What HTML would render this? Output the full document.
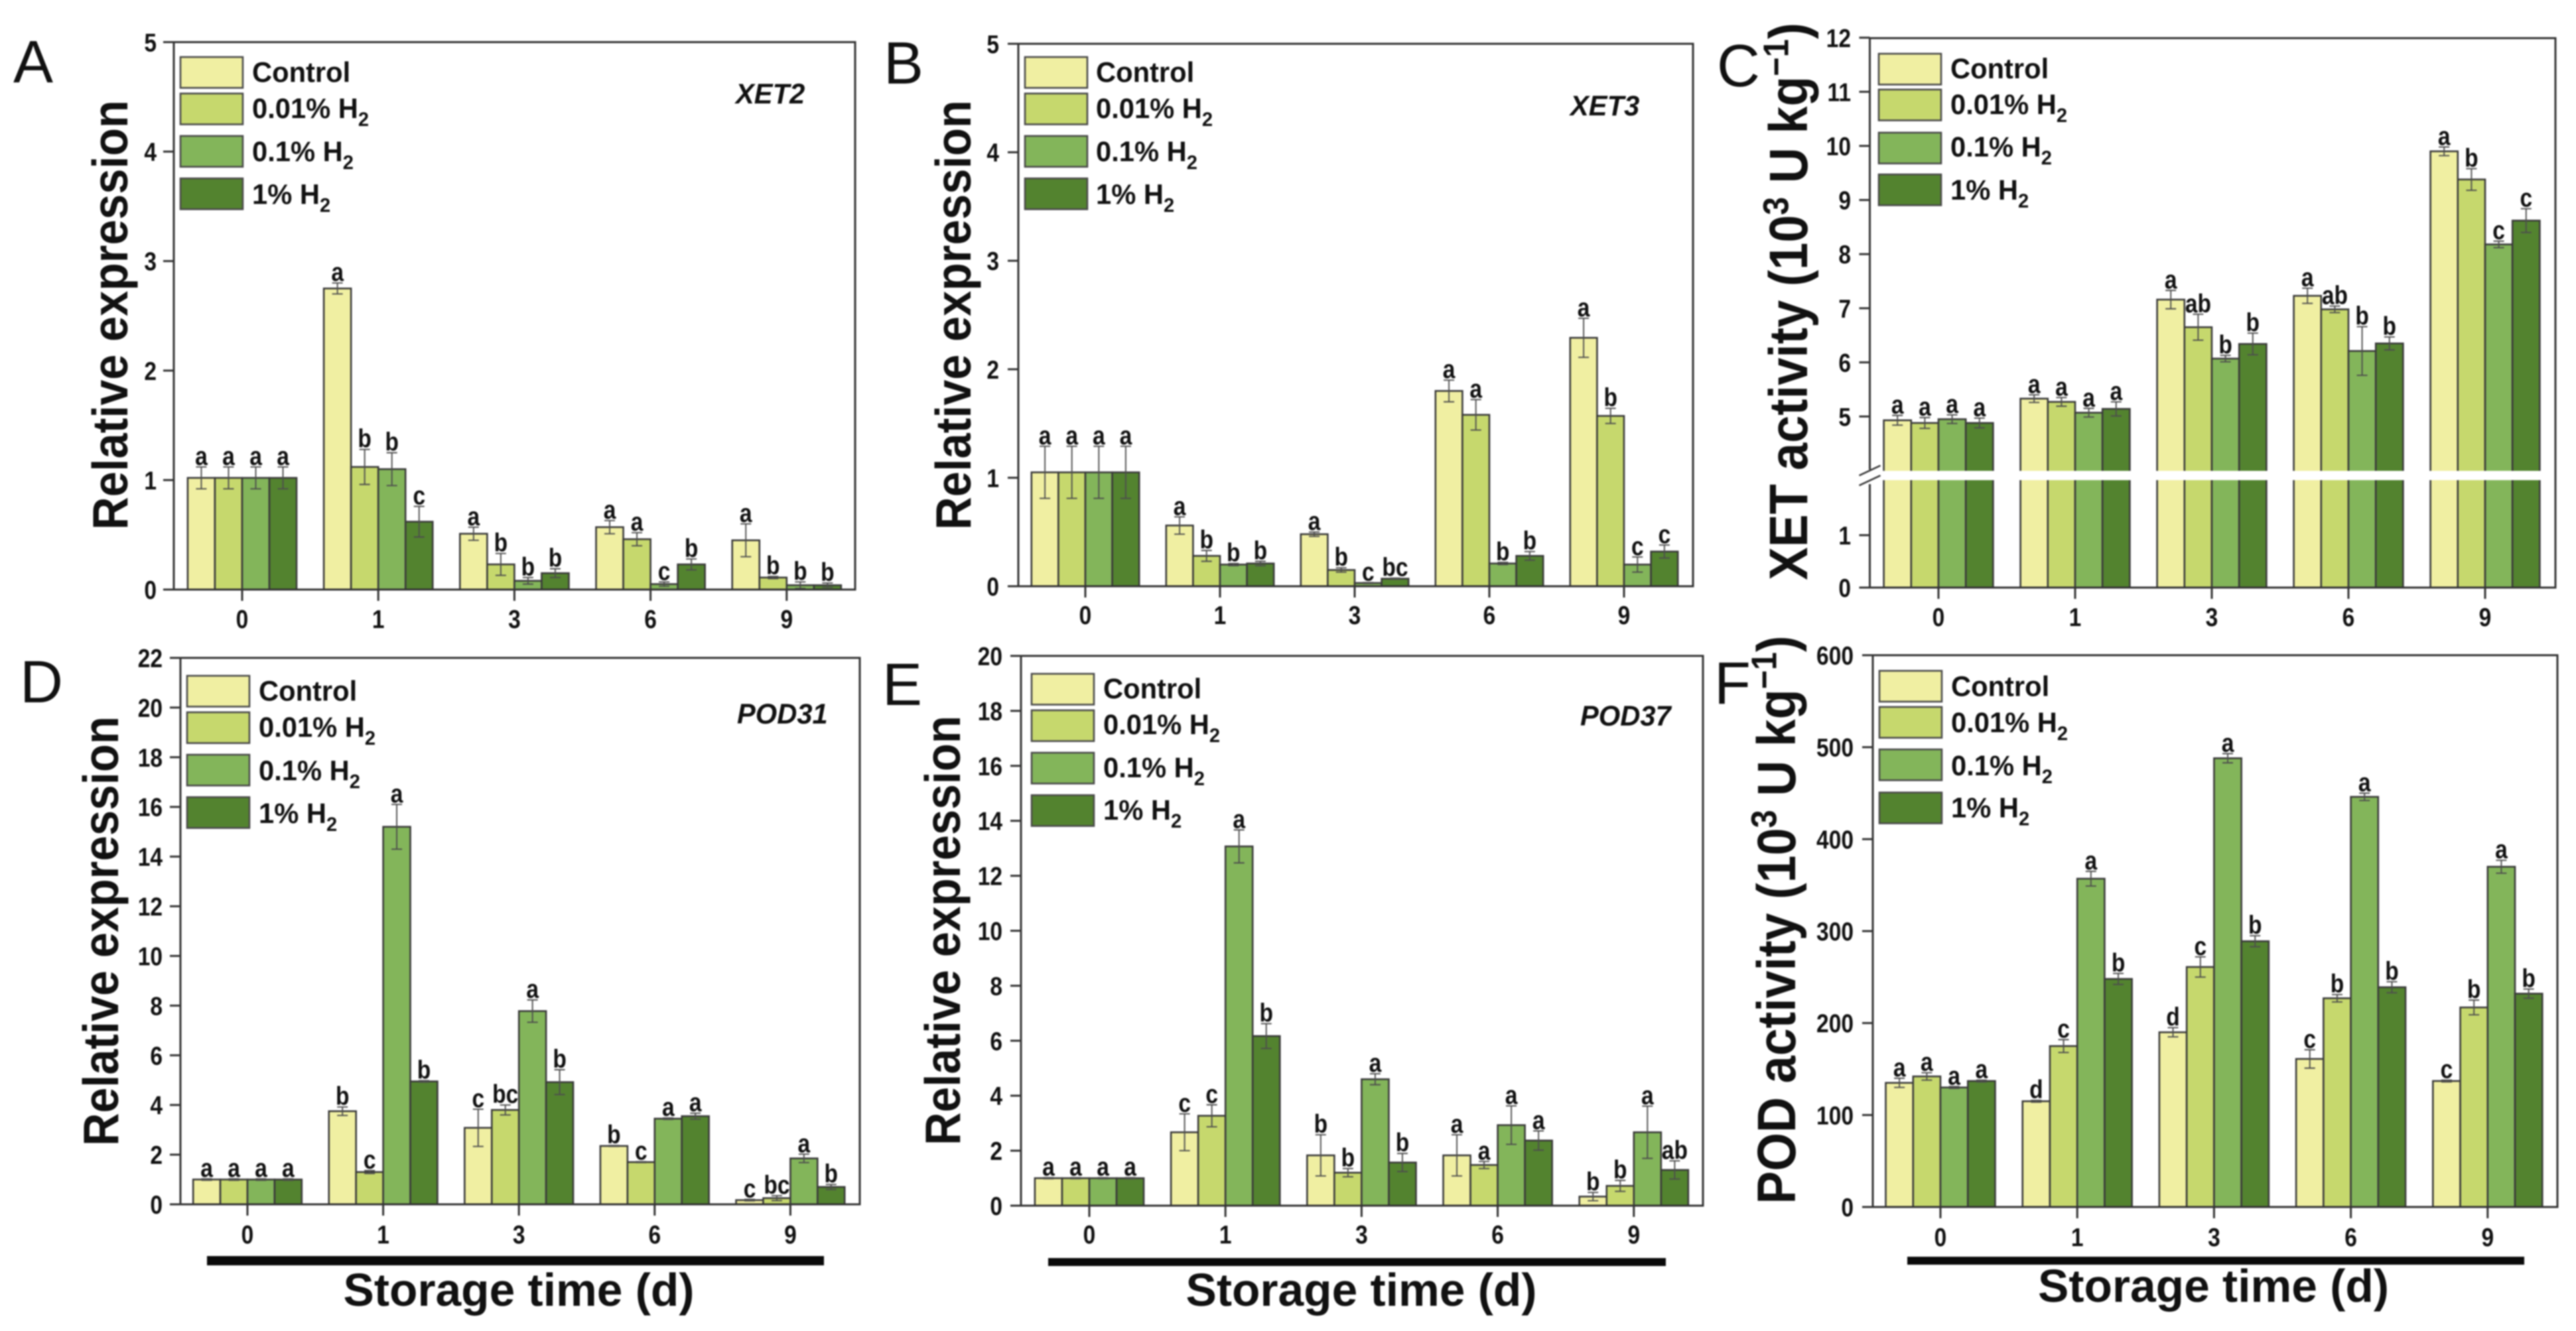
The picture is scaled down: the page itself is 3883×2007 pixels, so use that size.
<!DOCTYPE html>
<html lang="en">
<head>
<meta charset="utf-8">
<title>XET and POD expression and activity under H2 treatments</title>
<style>
html,body{margin:0;padding:0;background:#fff;width:3883px;height:2007px;overflow:hidden}
svg{display:block;filter:blur(1px)}
text{font-family:"Liberation Sans",sans-serif;fill:#111}
</style>
</head>
<body>
<svg id="figure" xmlns="http://www.w3.org/2000/svg" width="3883" height="2007" viewBox="0 0 3883 2007"></svg>
<script>
const categories = ['0', '1', '3', '6', '9'];
const seriesNames = ['Control', '0.01% H', '0.1% H', '1% H'];
const seriesHasSub = [false, true, true, true];
const seriesColors = ['#f0efa2', '#c6d86d', '#83b55a', '#53832f'];

const xet2Values = [[1.02,1.02,1.02,1.02],[2.75,1.12,1.10,0.62],[0.51,0.23,0.08,0.15],[0.57,0.46,0.05,0.23],[0.45,0.11,0.04,0.04]];
const xet2Errors = [[0.10,0.10,0.10,0.10],[0.05,0.16,0.15,0.14],[0.06,0.10,0.03,0.04],[0.06,0.06,0.02,0.05],[0.15,0.01,0.03,0.02]];
const xet2Letters = [['a','a','a','a'],['a','b','b','c'],['a','b','b','b'],['a','a','c','b'],['a','b','b','b']];
const xet2Ticks = [0,1,2,3,4,5];

const xet3Values = [[1.05,1.05,1.05,1.05],[0.56,0.28,0.20,0.21],[0.48,0.15,0.03,0.07],[1.80,1.58,0.21,0.28],[2.29,1.57,0.20,0.32]];
const xet3Errors = [[0.24,0.24,0.24,0.24],[0.08,0.05,0.01,0.02],[0.02,0.02,0.005,0.005],[0.10,0.14,0.01,0.04],[0.18,0.07,0.07,0.06]];
const xet3Letters = [['a','a','a','a'],['a','b','b','b'],['a','b','c','bc'],['a','a','b','b'],['a','b','c','c']];
const xet3Ticks = [0,1,2,3,4,5];

const xetActValues = [[4.93,4.88,4.95,4.88],[5.33,5.27,5.07,5.14],[7.16,6.65,6.07,6.34],[7.23,6.98,6.21,6.35],[9.90,9.38,8.18,8.62]];
const xetActErrors = [[0.09,0.10,0.08,0.09],[0.07,0.08,0.08,0.13],[0.17,0.24,0.06,0.20],[0.14,0.06,0.45,0.12],[0.08,0.20,0.06,0.22]];
const xetActLetters = [['a','a','a','a'],['a','a','a','a'],['a','ab','b','b'],['a','ab','b','b'],['a','b','c','c']];
const xetActTicks = [0,1,5,6,7,8,9,10,11,12];

const pod31Values = [[1,1,1,1],[3.75,1.30,15.2,4.95],[3.08,3.80,7.78,4.92],[2.35,1.70,3.45,3.55],[0.17,0.25,1.85,0.70]];
const pod31Errors = [[0.03,0.03,0.03,0.03],[0.17,0.06,0.90,0.03],[0.75,0.20,0.45,0.50],[0.02,0.02,0.03,0.12],[0.03,0.10,0.17,0.10]];
const pod31Letters = [['a','a','a','a'],['b','c','a','b'],['c','bc','a','b'],['b','c','a','a'],['c','bc','a','b']];
const pod31Ticks = [0,2,4,6,8,10,12,14,16,18,20,22];

const pod37Values = [[1,1,1,1],[2.67,3.27,13.07,6.17],[1.83,1.20,4.60,1.57],[1.83,1.48,2.93,2.37],[0.33,0.72,2.67,1.30]];
const pod37Errors = [[0.02,0.02,0.02,0.02],[0.67,0.40,0.60,0.45],[0.75,0.15,0.20,0.33],[0.75,0.13,0.70,0.35],[0.15,0.20,0.95,0.33]];
const pod37Letters = [['a','a','a','a'],['c','c','a','b'],['b','b','a','b'],['a','a','a','a'],['b','b','a','ab']];
const pod37Ticks = [0,2,4,6,8,10,12,14,16,18,20];

const podActValues = [[135,142,130,137],[115,175,357,248],[190,261,488,289],[161,227,446,239],[137,217,370,232]];
const podActErrors = [[5,4,1,1],[1,7,8,6],[5,11,5,6],[10,4,4,6],[1,8,7,5]];
const podActLetters = [['a','a','a','a'],['d','c','a','b'],['d','c','a','b'],['c','b','a','b'],['c','b','a','b']];
const podActTicks = [0,100,200,300,400,500,600];

const NS = 'http://www.w3.org/2000/svg';
const root = document.getElementById('figure');
function mk(parent, tag, attrs, txt) {
  const el = document.createElementNS(NS, tag);
  for (const k in attrs) el.setAttribute(k, attrs[k]);
  if (txt !== undefined) el.textContent = txt;
  parent.appendChild(el);
  return el;
}
function squeezed(parent, x, y, sx, attrs, txt) {
  const a = Object.assign({ transform:'translate(' + x + ' ' + y + ') scale(' + sx + ' 1)' }, attrs);
  return mk(parent, 'text', a, txt);
}

const layouts = [
  { letter:'A', lx:20, ly:124, left:262, right:1289, top:63.5, bottom:889, yMax:5, firstX:365, stepX:205.2,
    values:xet2Values, errors:xet2Errors, letters:xet2Letters, ticks:xet2Ticks, tickRight:236, xBase:947,
    legendX:272, textX:380, swY:[86,141,205,269], txtY:[123.5,178,243,307.5], gene:'XET2', geneX:1109, geneY:156,
    ylabel:'rel', ylX:192, ylY:475 },
  { letter:'B', lx:1332, ly:126, left:1535, right:2552, top:66, bottom:884, yMax:5, firstX:1636, stepX:203,
    values:xet3Values, errors:xet3Errors, letters:xet3Letters, ticks:xet3Ticks, tickRight:1506, xBase:941,
    legendX:1545, textX:1652, swY:[86,141,205,269], txtY:[123.5,178,243,307.5], gene:'XET3', geneX:2367, geneY:174,
    ylabel:'rel', ylX:1463, ylY:475 },
  { letter:'C', lx:2588, ly:130, left:2818.5, right:3852, top:57.5, bottom:886, yMax:12, firstX:2922, stepX:206,
    values:xetActValues, errors:xetActErrors, letters:xetActLetters, ticks:xetActTicks, tickRight:2790, xBase:944,
    legendX:2832, textX:2940, swY:[81,135,200,263], txtY:[118,172,236,301], broken:true,
    ylabel:'xet', ylX:2724, ylY:454.5 },
  { letter:'D', lx:30, ly:1059, left:272, right:1296, top:992, bottom:1816, yMax:22, firstX:373, stepX:204.6,
    values:pod31Values, errors:pod31Errors, letters:pod31Letters, ticks:pod31Ticks, tickRight:245, xBase:1875,
    legendX:282, textX:390, swY:[1019,1074,1138,1202], txtY:[1056.5,1111,1176.5,1241], gene:'POD31', geneX:1111, geneY:1091,
    ylabel:'rel', ylX:178, ylY:1404, rule:[312,1242,1894,1908], storageX:782, storageY:1969 },
  { letter:'E', lx:1330, ly:1063, left:1539, right:2567, top:989, bottom:1818, yMax:20, firstX:1642, stepX:205.2,
    values:pod37Values, errors:pod37Errors, letters:pod37Letters, ticks:pod37Ticks, tickRight:1511, xBase:1875,
    legendX:1555, textX:1663, swY:[1016,1071,1135,1199], txtY:[1053,1107,1172,1236], gene:'POD37', geneX:2382, geneY:1094,
    ylabel:'rel', ylX:1447, ylY:1403, rule:[1580,2511,1897,1909], storageX:2052, storageY:1969 },
  { letter:'F', lx:2584, ly:1061, left:2823, right:3855, top:988, bottom:1820, yMax:600, firstX:2925, stepX:206.2,
    values:podActValues, errors:podActErrors, letters:podActLetters, ticks:podActTicks, tickRight:2794, xBase:1879,
    legendX:2833, textX:2941, swY:[1011.5,1066,1130,1195], txtY:[1049.5,1104,1169,1232.5],
    ylabel:'pod', ylX:2706, ylY:1387, rule:[2875,3805,1895,1907], storageX:3336.5, storageY:1963 }
];

function yFunc(p) {
  if (p.broken) {
    return function (v) {
      return v <= 2.05 ? p.bottom - v * 79 : 628 - (v - 5) * 81.6;
    };
  }
  return function (v) { return p.bottom - (v / p.yMax) * (p.bottom - p.top); };
}

function drawYLabel(g, p) {
  const base = { 'text-anchor':'middle', 'font-weight':'bold',
    transform:'translate(' + p.ylX + ' ' + p.ylY + ') rotate(-90) scale(1 1.09)' };
  if (p.ylabel === 'rel') {
    base['font-size'] = 69;
    const t = mk(g, 'text', base, 'Relative expression');
    
    
    return;
  }
  base['font-size'] = 74.5;
  const t = mk(g, 'text', base);
  
  
  mk(t, 'tspan', {}, (p.ylabel === 'xet' ? 'XET' : 'POD') + ' activity (10');
  mk(t, 'tspan', { dy:-26, 'font-size':49 }, '3');
  mk(t, 'tspan', { dy:26 }, ' U kg');
  mk(t, 'tspan', { dy:-26, 'font-size':49 }, '\u22121');
  mk(t, 'tspan', { dy:26 }, ')');
}

layouts.forEach(function (p) {
  const g = mk(root, 'g', {});
  
  
  const y = yFunc(p);
  const x = function (i) { return p.firstX + i * p.stepX; };
  const barW = p.stepX * 0.2;

  const letter = mk(g, 'text', { x:p.lx, y:p.ly, 'font-size':90 }, p.letter);
  
  

  drawYLabel(g, p);

  p.values.forEach(function (groupVals, gi) {
    groupVals.forEach(function (v, si) {
      const bx = x(gi) + (si - 2) * barW;
      const cx = bx + barW / 2;
      const topY = y(v);
      const bar = mk(g, 'rect', { x:bx, y:topY, width:barW, height:p.bottom - topY,
        fill:seriesColors[si], stroke:'#3a3a3a', 'stroke-width':2.6 });
      
      

      const e = p.errors[gi][si];
      const hi = y(v + e), lo = y(v - e);
      const err = mk(g, 'path', { d:'M' + (cx - 8) + ' ' + hi + 'H' + (cx + 8) + 'M' + cx + ' ' + hi + 'V' + lo + 'M' + (cx - 8) + ' ' + lo + 'H' + (cx + 8),
        fill:'none', stroke:'#4d4d4d', 'stroke-width':1.9 });
      
      

      const lab = squeezed(g, cx, hi - 3, 0.86, { 'font-size':39, 'font-weight':'bold', 'text-anchor':'middle' }, p.letters[gi][si]);
      
      
    });
  });

  if (p.broken) {
    const band = mk(g, 'rect', { x:p.left + 2, y:710, width:p.right - p.left - 4, height:14, fill:'#fff' });
    
    
  }

  const frame = mk(g, 'rect', { x:p.left, y:p.top, width:p.right - p.left, height:p.bottom - p.top,
    fill:'none', stroke:'#333', 'stroke-width':3 });
  
  

  if (p.broken) {
    const gap = mk(g, 'rect', { x:p.left - 3, y:708, width:6, height:22, fill:'#fff' });
    
    
    const slashes = mk(g, 'path', { d:'M' + (p.left - 16) + ' 717L' + (p.left + 16) + ' 702M' + (p.left - 16) + ' 732L' + (p.left + 16) + ' 717',
      stroke:'#333', 'stroke-width':2.6, fill:'none' });
    
    
  }

  p.ticks.forEach(function (t) {
    const ty = y(t);
    const tick = mk(g, 'line', { x1:p.left - 16, x2:p.left, y1:ty, y2:ty, stroke:'#333', 'stroke-width':3 });
    
    
    const lab = squeezed(g, p.tickRight, ty + 14, 0.86, { 'font-size':39, 'font-weight':'bold', 'text-anchor':'end' }, String(t));
    
    
  });

  categories.forEach(function (c, i) {
    const tick = mk(g, 'line', { x1:x(i), x2:x(i), y1:p.bottom, y2:p.bottom + 17, stroke:'#333', 'stroke-width':3 });
    
    
    const lab = squeezed(g, x(i), p.xBase, 0.86, { 'font-size':39, 'font-weight':'bold', 'text-anchor':'middle' }, c);
    
    
  });

  seriesNames.forEach(function (name, i) {
    const sw = mk(g, 'rect', { x:p.legendX, y:p.swY[i], width:94, height:46.5,
      fill:seriesColors[i], stroke:'#4a4a4a', 'stroke-width':2.6 });
    
    
    const t = squeezed(g, p.textX, p.txtY[i], 0.97, { 'font-size':43, 'font-weight':'bold' }, name);
    
    
    if (seriesHasSub[i]) mk(t, 'tspan', { dy:12, 'font-size':30 }, '2');
  });

  if (p.gene) {
    const gene = squeezed(g, p.geneX, p.geneY, 0.97, { 'font-size':43, 'font-weight':'bold', 'font-style':'italic' }, p.gene);
    
    
  }

  if (p.rule) {
    const rule = mk(g, 'rect', { x:p.rule[0], y:p.rule[2], width:p.rule[1] - p.rule[0], height:p.rule[3] - p.rule[2], fill:'#0a0a0a' });
    
    
    const st = mk(g, 'text', { x:p.storageX, y:p.storageY, 'font-size':69.5, 'font-weight':'bold', 'text-anchor':'middle' }, 'Storage time (d)');
    
    
  }
});
</script>
</body>
</html>
